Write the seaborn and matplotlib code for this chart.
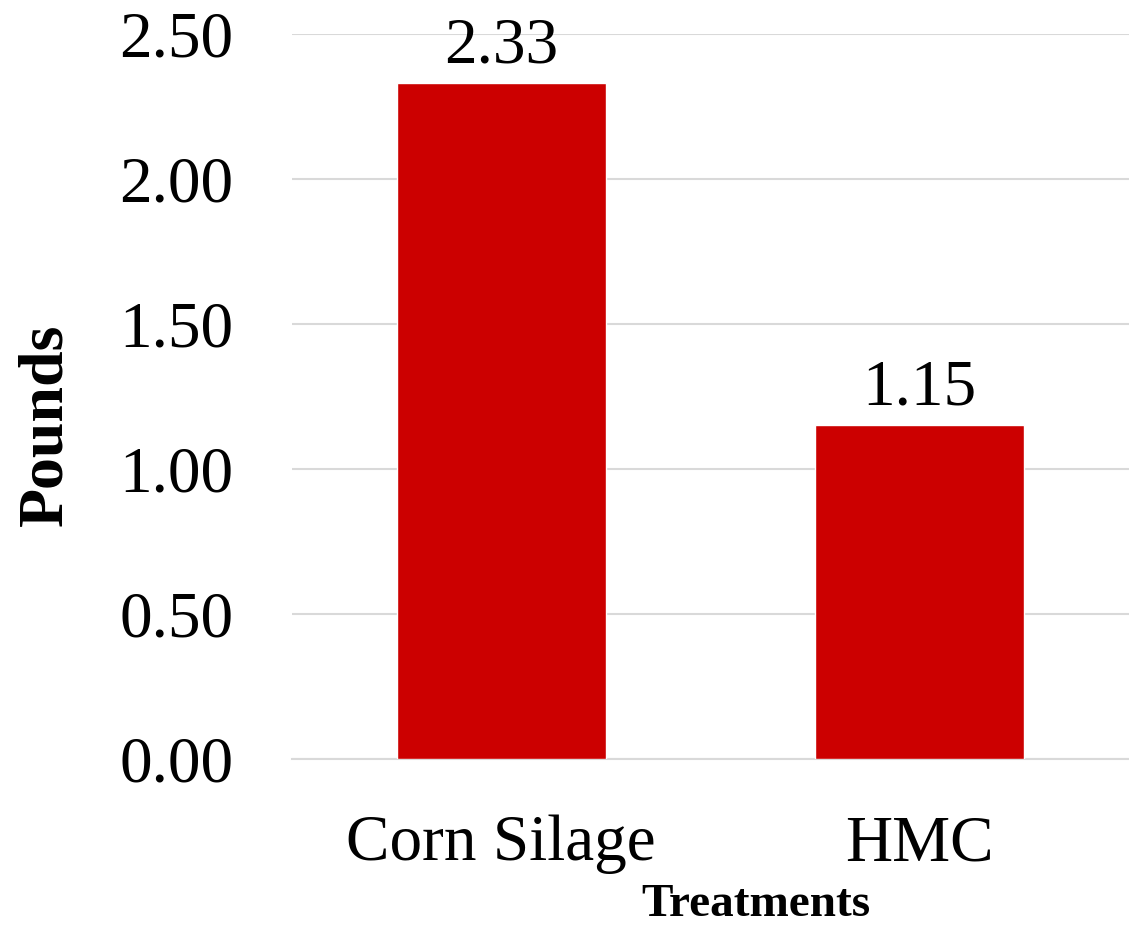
import matplotlib
matplotlib.use("Agg")
import matplotlib.pyplot as plt
import seaborn as sns
import pandas as pd

# data
treatments = ["Corn Silage", "HMC"]
pounds = [2.33, 1.15]
yticks = [0.0, 0.5, 1.0, 1.5, 2.0, 2.5]

sns.set_style("white")
plt.rcParams['font.family'] = ['Liberation Serif', 'DejaVu Serif']
plt.rcParams['text.color'] = 'black'
plt.rcParams['xtick.color'] = 'black'
plt.rcParams['ytick.color'] = 'black'

df = pd.DataFrame({"Treatments": treatments, "Pounds": pounds})

fig = plt.figure(figsize=(11.29, 9.25), dpi=100)
ax = fig.add_axes([0.2586, 0.1795, 0.7414, 0.7837])

sns.barplot(data=df, x="Treatments", y="Pounds", color="#CC0000",
            saturation=1, width=0.5, ax=ax, zorder=3)

ax.set_ylim(0, 2.5)
ax.set_xlim(-0.5, 1.5)
ax.set_yticks(yticks)
ax.set_yticklabels(["%.2f" % v for v in yticks])
ax.yaxis.grid(True, color="#D9D9D9", linewidth=1.5, zorder=0)
for s in ["left", "right", "top"]:
    ax.spines[s].set_visible(False)
ax.spines["bottom"].set_color("#D9D9D9")
ax.spines["bottom"].set_linewidth(1.5)
ax.tick_params(axis="y", length=0, pad=42, labelsize=47)
ax.tick_params(axis="x", length=0, pad=40, labelsize=47)

for c in ax.containers:
    ax.bar_label(c, labels=["%.2f" % v for v in pounds], padding=5, fontsize=47)

ax.set_ylabel("")
ax.set_xlabel("")
fig.text(0.0407, 0.5405, "Pounds", fontsize=46, fontweight="bold",
         rotation=90, ha="center", va="center")
fig.text(0.6696, 0.0216, "Treatments", fontsize=34, fontweight="bold",
         ha="center", va="center")

fig.savefig("out.png", dpi=100)
